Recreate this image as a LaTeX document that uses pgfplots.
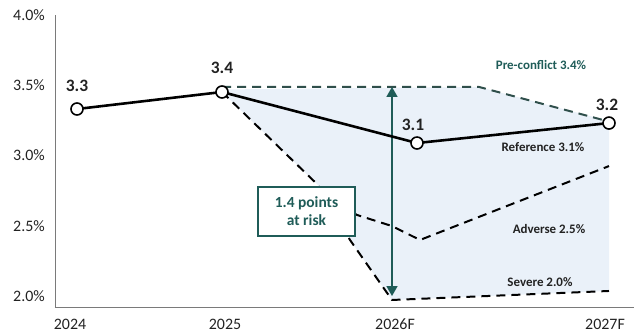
\documentclass[border=0pt]{standalone}
\usepackage{fontspec}
\setmainfont{Carlito}
\usepackage{pgfplots}
\pgfplotsset{compat=1.18}
\usetikzlibrary{arrows.meta}
\definecolor{tealdark}{HTML}{1F5C58}
\definecolor{preconf}{HTML}{2F4F4B}
\definecolor{shade}{HTML}{EAF1F9}
\definecolor{axisgray}{HTML}{7A7A7A}
\definecolor{txt}{HTML}{222222}
\begin{document}
\begin{tikzpicture}
\begin{axis}[
  at={(0,0)}, anchor=south west,
  scale only axis, width=579bp, height=292bp,
  xmin=55, xmax=634, ymin=1.922, ymax=4.0,
  clip=false,
  axis x line=bottom, axis y line=left,
  axis line style={draw=axisgray, line width=1pt, -},
  major tick length=0pt,
  xtick={70,225,395,605},
  xticklabels={2024,2025,2026F,2027F},
  ytick={2,2.5,3,3.5,4},
  yticklabels={2.0\%,2.5\%,3.0\%,3.5\%,4.0\%},
  ticklabel style={font=\fontsize{16}{16}\selectfont, text=txt, inner sep=0pt},
  xticklabel style={anchor=north, yshift=-12bp},
  yticklabel style={anchor=east, xshift=-10bp},
]
% shaded risk band
\addplot[fill=shade, draw=none] coordinates {
  (222,3.470) (479,3.488) (609,3.246) (609,2.036) (392,1.972) (350,2.399) (318,2.790) (222,3.452)};
% pre-conflict
\addplot[preconf, line width=2pt, dash pattern=on 9bp off 6bp] coordinates {
  (222,3.488) (479,3.488) (603,3.253)};
% severe
\addplot[black, line width=2pt, dash pattern=on 9bp off 6bp] coordinates {
  (222,3.452) (318,2.790) (350,2.399) (392,1.972) (609,2.036)};
% adverse
\addplot[black, line width=2pt, dash pattern=on 9bp off 6bp] coordinates {
  (340,2.648) (357,2.577) (392,2.498) (420,2.399) (609,2.925)};
% arrow
\draw[tealdark, line width=1.6pt, {Triangle[length=10bp,width=11bp]}-{Triangle[length=10bp,width=11bp]}]
  (axis cs:392,3.488) -- (axis cs:392,2.0);
% reference
\addplot[black, line width=2.6pt, mark=*, mark size=6bp,
  mark options={fill=white, draw=black, line width=1.6pt}] coordinates {
  (77,3.331) (222,3.452) (417,3.089) (609,3.231)};
% box
\node[draw=tealdark, line width=1.4pt, fill=white, text=tealdark,
  font=\bfseries\fontsize{15.5}{18}\selectfont, align=center,
  minimum width=97bp, minimum height=49bp, inner sep=2pt]
  at (axis cs:306.5,2.601) {1.4 points\\at risk};
% data labels
\begin{scope}[every node/.style={font=\bfseries\fontsize{17.5}{17.5}\selectfont, text=txt}]
\node at (axis cs:77,3.495) {3.3};
\node at (axis cs:222,3.623) {3.4};
\node at (axis cs:413,3.217) {3.1};
\node at (axis cs:607,3.359) {3.2};
\end{scope}
% scenario labels
\begin{scope}[every node/.style={font=\bfseries\fontsize{13}{13}\selectfont, text=txt}]
\node[text=tealdark] at (axis cs:541,3.644) {Pre-conflict 3.4\%};
\node at (axis cs:543,3.060) {Reference 3.1\%};
\node at (axis cs:549,2.477) {Adverse 2.5\%};
\node at (axis cs:540,2.100) {Severe 2.0\%};
\end{scope}
\end{axis}
\pgfresetboundingbox
\useasboundingbox (-55bp,-27bp) rectangle (587bp,307bp);
\end{tikzpicture}
\end{document}
